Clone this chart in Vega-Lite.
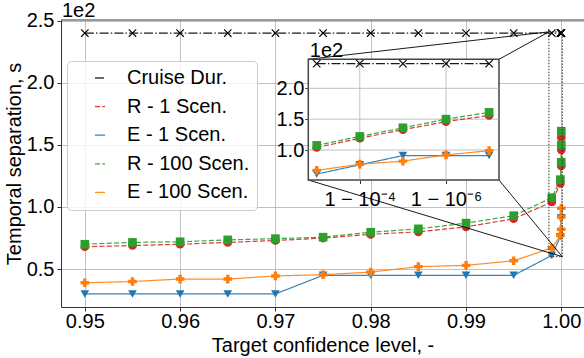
{
  "$schema": "https://vega.github.io/schema/vega-lite/v6.json",
  "width": 523,
  "height": 287,
  "autosize": {"type": "none"},
  "padding": {"left": 61, "top": 20, "right": 0, "bottom": 51},
  "background": "white",
  "datasets": {
    "d": [
      {"series": "Cruise Dur.", "conf": 0.95, "tail": 0.05, "value": 240},
      {"series": "Cruise Dur.", "conf": 0.955, "tail": 0.045, "value": 240},
      {"series": "Cruise Dur.", "conf": 0.96, "tail": 0.04, "value": 240},
      {"series": "Cruise Dur.", "conf": 0.965, "tail": 0.035, "value": 240},
      {"series": "Cruise Dur.", "conf": 0.97, "tail": 0.03, "value": 240},
      {"series": "Cruise Dur.", "conf": 0.975, "tail": 0.025, "value": 240},
      {"series": "Cruise Dur.", "conf": 0.98, "tail": 0.02, "value": 240},
      {"series": "Cruise Dur.", "conf": 0.985, "tail": 0.015, "value": 240},
      {"series": "Cruise Dur.", "conf": 0.99, "tail": 0.01, "value": 240},
      {"series": "Cruise Dur.", "conf": 0.995, "tail": 0.005, "value": 240},
      {"series": "Cruise Dur.", "conf": 0.999, "tail": 0.001, "value": 240},
      {"series": "Cruise Dur.", "conf": 0.9999, "tail": 0.0001, "value": 240},
      {"series": "Cruise Dur.", "conf": 0.99999, "tail": 0.00001, "value": 240},
      {"series": "Cruise Dur.", "conf": 0.999999, "tail": 0.000001, "value": 240},
      {"series": "Cruise Dur.", "conf": 0.9999999, "tail": 0.0000001, "value": 240},
      {"series": "R - 1 Scen.", "conf": 0.95, "tail": 0.05, "value": 68},
      {"series": "R - 1 Scen.", "conf": 0.955, "tail": 0.045, "value": 69},
      {"series": "R - 1 Scen.", "conf": 0.96, "tail": 0.04, "value": 70},
      {"series": "R - 1 Scen.", "conf": 0.965, "tail": 0.035, "value": 71.5},
      {"series": "R - 1 Scen.", "conf": 0.97, "tail": 0.03, "value": 73},
      {"series": "R - 1 Scen.", "conf": 0.975, "tail": 0.025, "value": 75},
      {"series": "R - 1 Scen.", "conf": 0.98, "tail": 0.02, "value": 78},
      {"series": "R - 1 Scen.", "conf": 0.985, "tail": 0.015, "value": 80},
      {"series": "R - 1 Scen.", "conf": 0.99, "tail": 0.01, "value": 84},
      {"series": "R - 1 Scen.", "conf": 0.995, "tail": 0.005, "value": 90.5},
      {"series": "R - 1 Scen.", "conf": 0.999, "tail": 0.001, "value": 104},
      {"series": "R - 1 Scen.", "conf": 0.9999, "tail": 0.0001, "value": 119},
      {"series": "R - 1 Scen.", "conf": 0.99999, "tail": 0.00001, "value": 133},
      {"series": "R - 1 Scen.", "conf": 0.999999, "tail": 0.000001, "value": 146},
      {"series": "R - 1 Scen.", "conf": 0.9999999, "tail": 0.0000001, "value": 156},
      {"series": "E - 1 Scen.", "conf": 0.95, "tail": 0.05, "value": 30},
      {"series": "E - 1 Scen.", "conf": 0.955, "tail": 0.045, "value": 30},
      {"series": "E - 1 Scen.", "conf": 0.96, "tail": 0.04, "value": 30},
      {"series": "E - 1 Scen.", "conf": 0.965, "tail": 0.035, "value": 30},
      {"series": "E - 1 Scen.", "conf": 0.97, "tail": 0.03, "value": 30},
      {"series": "E - 1 Scen.", "conf": 0.975, "tail": 0.025, "value": 45},
      {"series": "E - 1 Scen.", "conf": 0.98, "tail": 0.02, "value": 45},
      {"series": "E - 1 Scen.", "conf": 0.985, "tail": 0.015, "value": 45},
      {"series": "E - 1 Scen.", "conf": 0.99, "tail": 0.01, "value": 45},
      {"series": "E - 1 Scen.", "conf": 0.995, "tail": 0.005, "value": 45},
      {"series": "E - 1 Scen.", "conf": 0.999, "tail": 0.001, "value": 61},
      {"series": "E - 1 Scen.", "conf": 0.9999, "tail": 0.0001, "value": 76},
      {"series": "E - 1 Scen.", "conf": 0.99999, "tail": 0.00001, "value": 91},
      {"series": "E - 1 Scen.", "conf": 0.999999, "tail": 0.000001, "value": 91},
      {"series": "E - 1 Scen.", "conf": 0.9999999, "tail": 0.0000001, "value": 91},
      {"series": "R - 100 Scen.", "conf": 0.95, "tail": 0.05, "value": 70},
      {"series": "R - 100 Scen.", "conf": 0.955, "tail": 0.045, "value": 71.5},
      {"series": "R - 100 Scen.", "conf": 0.96, "tail": 0.04, "value": 72},
      {"series": "R - 100 Scen.", "conf": 0.965, "tail": 0.035, "value": 73.5},
      {"series": "R - 100 Scen.", "conf": 0.97, "tail": 0.03, "value": 74.5},
      {"series": "R - 100 Scen.", "conf": 0.975, "tail": 0.025, "value": 75.7},
      {"series": "R - 100 Scen.", "conf": 0.98, "tail": 0.02, "value": 79.7},
      {"series": "R - 100 Scen.", "conf": 0.985, "tail": 0.015, "value": 82.4},
      {"series": "R - 100 Scen.", "conf": 0.99, "tail": 0.01, "value": 87},
      {"series": "R - 100 Scen.", "conf": 0.995, "tail": 0.005, "value": 93},
      {"series": "R - 100 Scen.", "conf": 0.999, "tail": 0.001, "value": 107.5},
      {"series": "R - 100 Scen.", "conf": 0.9999, "tail": 0.0001, "value": 122},
      {"series": "R - 100 Scen.", "conf": 0.99999, "tail": 0.00001, "value": 136},
      {"series": "R - 100 Scen.", "conf": 0.999999, "tail": 0.000001, "value": 150},
      {"series": "R - 100 Scen.", "conf": 0.9999999, "tail": 0.0000001, "value": 161},
      {"series": "E - 100 Scen.", "conf": 0.95, "tail": 0.05, "value": 39},
      {"series": "E - 100 Scen.", "conf": 0.955, "tail": 0.045, "value": 40},
      {"series": "E - 100 Scen.", "conf": 0.96, "tail": 0.04, "value": 42},
      {"series": "E - 100 Scen.", "conf": 0.965, "tail": 0.035, "value": 42},
      {"series": "E - 100 Scen.", "conf": 0.97, "tail": 0.03, "value": 44.5},
      {"series": "E - 100 Scen.", "conf": 0.975, "tail": 0.025, "value": 45.5},
      {"series": "E - 100 Scen.", "conf": 0.98, "tail": 0.02, "value": 47.6},
      {"series": "E - 100 Scen.", "conf": 0.985, "tail": 0.015, "value": 52},
      {"series": "E - 100 Scen.", "conf": 0.99, "tail": 0.01, "value": 53},
      {"series": "E - 100 Scen.", "conf": 0.995, "tail": 0.005, "value": 56.7},
      {"series": "E - 100 Scen.", "conf": 0.999, "tail": 0.001, "value": 67},
      {"series": "E - 100 Scen.", "conf": 0.9999, "tail": 0.0001, "value": 77},
      {"series": "E - 100 Scen.", "conf": 0.99999, "tail": 0.00001, "value": 82},
      {"series": "E - 100 Scen.", "conf": 0.999999, "tail": 0.000001, "value": 92},
      {"series": "E - 100 Scen.", "conf": 0.9999999, "tail": 0.0000001, "value": 99}
    ]
  },
  "layer": [
    {
      "data": {"name": "d"},
      "layer": [
        {
          "mark": {"type": "line", "strokeWidth": 1.2, "opacity": 0.9},
          "encoding": {
            "x": {"field": "conf", "type": "quantitative", "scale": {"domain": [0.9475, 1.00238], "nice": false, "zero": false},
                  "axis": {"orient": "bottom", "values": [0.95, 0.96, 0.97, 0.98, 0.99, 1.0], "format": ".2f", "title": "Target confidence level, -", "grid": true}},
            "y": {"field": "value", "type": "quantitative", "scale": {"domain": [19.5, 250.5], "nice": false, "zero": false},
                  "axis": {"orient": "left", "values": [50, 100, 150, 200, 250], "labelExpr": "format(datum.value / 100, '.1f')", "title": "Temporal separation, s", "grid": true}},
            "color": {"field": "series", "type": "nominal",
                      "scale": {"domain": ["Cruise Dur.", "R - 1 Scen.", "E - 1 Scen.", "R - 100 Scen.", "E - 100 Scen."], "range": ["#000000", "#d62728", "#1f77b4", "#2ca02c", "#ff7f0e"]},
                      "legend": {
                        "title": null, "orient": "none", "legendX": 6, "legendY": 41,
                        "padding": 7, "rowPadding": 8.6, "symbolSize": 100, "symbolOffset": 16, "labelOffset": 17,
                        "labelFontSize": 20, "labelFont": "Liberation Sans", "labelColor": "black", "labelLimit": 300,
                        "fillColor": "rgba(255,255,255,0.8)", "strokeColor": "#cccccc", "cornerRadius": 4, "symbolStrokeWidth": 1.3,
                        "encode": {"symbols": {
                          "shape": {"value": {"expr": "datum.label === 'Cruise Dur.' ? 'M-4.3,0H4.3M-0.75,-0.75L0.75,0.75M-0.75,0.75L0.75,-0.75' : datum.label === 'R - 1 Scen.' ? 'M-4.3,0H4.3M0.9,0A0.9,0.9,0,1,1,-0.9,0A0.9,0.9,0,1,1,0.9,0Z' : datum.label === 'E - 1 Scen.' ? 'M-4.3,0H4.3M-1,-0.8H1L0,0.95Z' : datum.label === 'R - 100 Scen.' ? 'M-4.3,0H4.3M-0.85,-0.85H0.85V0.85H-0.85Z' : 'M-4.3,0H4.3M-0.33,-1H0.33V-0.33H1V0.33H0.33V1H-0.33V0.33H-1V-0.33H-0.33Z'"}},
                          "stroke": {"value": {"expr": "datum.label === 'Cruise Dur.' ? '#000000' : datum.label === 'R - 1 Scen.' ? '#d62728' : datum.label === 'E - 1 Scen.' ? '#1f77b4' : datum.label === 'R - 100 Scen.' ? '#2ca02c' : '#ff7f0e'"}},
                          "fill": {"value": {"expr": "datum.label === 'Cruise Dur.' ? 'transparent' : datum.label === 'R - 1 Scen.' ? '#d62728' : datum.label === 'E - 1 Scen.' ? '#1f77b4' : datum.label === 'R - 100 Scen.' ? '#2ca02c' : '#ff7f0e'"}},
                          "strokeDash": {"value": {"expr": "datum.label === 'Cruise Dur.' ? [8, 2.5, 1.5, 2.5] : (datum.label === 'R - 1 Scen.' || datum.label === 'R - 100 Scen.') ? [5, 2.2] : [1, 0]"}},
                          "strokeWidth": {"value": 1.3},
                          "opacity": {"value": 1},
                          "fillOpacity": {"value": 1},
                          "strokeOpacity": {"value": 1}
                        }}
                      }},
            "strokeDash": {"field": "series", "type": "nominal",
                           "scale": {"domain": ["Cruise Dur.", "R - 1 Scen.", "E - 1 Scen.", "R - 100 Scen.", "E - 100 Scen."], "range": [[9, 2.2, 1.4, 2.2], [5.1, 2.2], [1, 0], [5.1, 2.2], [1, 0]]},
                           "legend": null}
          }
        },
        {
          "data": {"values": [{}]},
          "mark": {"type": "rule", "color": "#333333", "strokeWidth": 1},
          "encoding": {"y": {"datum": 250.5, "type": "quantitative"}}
        },
        {
          "transform": [{"filter": "datum.series === 'Cruise Dur.'"}],
          "mark": {"type": "point", "shape": "M-1,-1L1,1M-1,1L1,-1", "filled": false, "stroke": "#000000", "strokeWidth": 1.1, "size": 55, "opacity": 1},
          "encoding": {
            "x": {"field": "conf", "type": "quantitative"},
            "y": {"field": "value", "type": "quantitative"}
          }
        },
        {
          "transform": [{"filter": "datum.series !== 'Cruise Dur.'"}],
          "mark": {"type": "point", "filled": true, "size": 75, "opacity": 1},
          "encoding": {
            "x": {"field": "conf", "type": "quantitative"},
            "y": {"field": "value", "type": "quantitative"},
            "color": {"field": "series", "type": "nominal", "legend": null},
            "shape": {"field": "series", "type": "nominal",
                      "scale": {"domain": ["R - 1 Scen.", "E - 1 Scen.", "R - 100 Scen.", "E - 100 Scen."], "range": ["circle", "triangle-down", "square", "cross"]},
                      "legend": null}
          }
        },
        {
          "data": {"values": [{}]},
          "mark": {"type": "rect", "fill": "transparent", "stroke": "#333333", "strokeWidth": 1, "strokeDash": [1.5, 1.5]},
          "encoding": {
            "x": {"datum": 0.9987, "type": "quantitative"}, "x2": {"datum": 1.0001},
            "y": {"datum": 60, "type": "quantitative"}, "y2": {"datum": 241}
          }
        },
        {
          "data": {"values": [{}]},
          "mark": {"type": "rule", "color": "#000000", "strokeWidth": 0.9},
          "encoding": {"x": {"datum": 0.97345, "type": "quantitative"}, "y": {"datum": 218.87, "type": "quantitative"}, "x2": {"datum": 0.9987}, "y2": {"datum": 241}}
        },
        {
          "data": {"values": [{}]},
          "mark": {"type": "rule", "color": "#000000", "strokeWidth": 0.9},
          "encoding": {"x": {"datum": 0.99346, "type": "quantitative"}, "y": {"datum": 218.87, "type": "quantitative"}, "x2": {"datum": 0.9987}, "y2": {"datum": 241}}
        },
        {
          "data": {"values": [{}]},
          "mark": {"type": "rule", "color": "#000000", "strokeWidth": 0.9},
          "encoding": {"x": {"datum": 0.97345, "type": "quantitative"}, "y": {"datum": 121.72, "type": "quantitative"}, "x2": {"datum": 1.0001}, "y2": {"datum": 60}}
        },
        {
          "data": {"values": [{}]},
          "mark": {"type": "rule", "color": "#000000", "strokeWidth": 0.9},
          "encoding": {"x": {"datum": 0.99346, "type": "quantitative"}, "y": {"datum": 121.72, "type": "quantitative"}, "x2": {"datum": 1.0001}, "y2": {"datum": 60}}
        },
        {
          "data": {"values": [{}]},
          "mark": {"type": "text", "text": "1e2", "align": "left", "baseline": "alphabetic", "fontSize": 20, "font": "Liberation Sans", "color": "black", "dx": 1, "dy": -3.3},
          "encoding": {"x": {"datum": 0.9475, "type": "quantitative"}, "y": {"datum": 250.5, "type": "quantitative"}}
        }
      ]
    },
    {
      "layer": [
        {
          "data": {"values": [{}]},
          "mark": {"type": "rect", "fill": "white", "stroke": "#444444", "strokeWidth": 1.5},
          "encoding": {
            "x": {"datum": 0.001567, "type": "quantitative",
                  "scale": {"type": "log", "domain": [0.001567, 5.89e-8], "range": [247.3, 438], "nice": false, "zero": false},
                  "axis": {"orient": "bottom", "offset": -127, "values": [0.0001, 0.000001], "labelExpr": "datum.value < 0.00001 ? '1 − 10⁻⁶' : '1 − 10⁻⁴'", "title": null, "grid": false, "domain": false, "tickSize": 3.5, "labelPadding": 5.7}},
            "x2": {"datum": 5.89e-8},
            "y": {"datum": 51.4, "type": "quantitative",
                  "scale": {"domain": [51.4, 247], "range": [160, 39.3], "nice": false, "zero": false},
                  "axis": {"orient": "left", "offset": -247.3, "values": [100, 150, 200], "labelExpr": "format(datum.value / 100, '.1f')", "title": null, "grid": false, "domain": false, "tickSize": 3.5, "labelPadding": 1}},
            "y2": {"datum": 247}
          }
        },
        {
          "data": {"values": [{}]},
          "mark": {"type": "rule", "color": "#b0b0b0", "strokeWidth": 0.8},
          "encoding": {"x": {"datum": 0.0001, "type": "quantitative"}, "y": {"datum": 51.4, "type": "quantitative"}, "y2": {"datum": 247}}
        },
        {
          "data": {"values": [{}]},
          "mark": {"type": "rule", "color": "#b0b0b0", "strokeWidth": 0.8},
          "encoding": {"x": {"datum": 0.000001, "type": "quantitative"}, "y": {"datum": 51.4, "type": "quantitative"}, "y2": {"datum": 247}}
        },
        {
          "data": {"values": [{}]},
          "mark": {"type": "rule", "color": "#b0b0b0", "strokeWidth": 0.8},
          "encoding": {"y": {"datum": 100, "type": "quantitative"}, "x": {"datum": 0.001567, "type": "quantitative"}, "x2": {"datum": 5.89e-8}}
        },
        {
          "data": {"values": [{}]},
          "mark": {"type": "rule", "color": "#b0b0b0", "strokeWidth": 0.8},
          "encoding": {"y": {"datum": 150, "type": "quantitative"}, "x": {"datum": 0.001567, "type": "quantitative"}, "x2": {"datum": 5.89e-8}}
        },
        {
          "data": {"values": [{}]},
          "mark": {"type": "rule", "color": "#b0b0b0", "strokeWidth": 0.8},
          "encoding": {"y": {"datum": 200, "type": "quantitative"}, "x": {"datum": 0.001567, "type": "quantitative"}, "x2": {"datum": 5.89e-8}}
        },
        {
          "data": {"name": "d"},
          "transform": [{"filter": "datum.tail <= 0.0011"}],
          "mark": {"type": "line", "strokeWidth": 1.2, "opacity": 0.9},
          "encoding": {
            "x": {"field": "tail", "type": "quantitative"},
            "y": {"field": "value", "type": "quantitative"},
            "color": {"field": "series", "type": "nominal",
                      "scale": {"domain": ["Cruise Dur.", "R - 1 Scen.", "E - 1 Scen.", "R - 100 Scen.", "E - 100 Scen."], "range": ["#000000", "#d62728", "#1f77b4", "#2ca02c", "#ff7f0e"]},
                      "legend": null},
            "strokeDash": {"field": "series", "type": "nominal",
                           "scale": {"domain": ["Cruise Dur.", "R - 1 Scen.", "E - 1 Scen.", "R - 100 Scen.", "E - 100 Scen."], "range": [[9, 2.2, 1.4, 2.2], [5.1, 2.2], [1, 0], [5.1, 2.2], [1, 0]]},
                           "legend": null}
          }
        },
        {
          "data": {"name": "d"},
          "transform": [{"filter": "datum.tail <= 0.0011 && datum.series === 'Cruise Dur.'"}],
          "mark": {"type": "point", "shape": "M-1,-1L1,1M-1,1L1,-1", "filled": false, "stroke": "#000000", "strokeWidth": 1.1, "size": 55, "opacity": 1},
          "encoding": {
            "x": {"field": "tail", "type": "quantitative"},
            "y": {"field": "value", "type": "quantitative"}
          }
        },
        {
          "data": {"name": "d"},
          "transform": [{"filter": "datum.tail <= 0.0011 && datum.series !== 'Cruise Dur.'"}],
          "mark": {"type": "point", "filled": true, "size": 75, "opacity": 1},
          "encoding": {
            "x": {"field": "tail", "type": "quantitative"},
            "y": {"field": "value", "type": "quantitative"},
            "color": {"field": "series", "type": "nominal", "legend": null},
            "shape": {"field": "series", "type": "nominal",
                      "scale": {"domain": ["R - 1 Scen.", "E - 1 Scen.", "R - 100 Scen.", "E - 100 Scen."], "range": ["circle", "triangle-down", "square", "cross"]},
                      "legend": null}
          }
        },
        {
          "data": {"values": [{}]},
          "mark": {"type": "text", "text": "1e2", "align": "left", "baseline": "alphabetic", "fontSize": 20, "font": "Liberation Sans", "color": "black", "dx": 1.5, "dy": -2},
          "encoding": {"x": {"datum": 0.001567, "type": "quantitative"}, "y": {"datum": 247, "type": "quantitative"}}
        }
      ]
    }
  ],
  "resolve": {
    "scale": {"x": "independent", "y": "independent", "color": "independent", "shape": "independent", "strokeDash": "independent"},
    "axis": {"x": "independent", "y": "independent"},
    "legend": {"color": "independent"}
  },
  "config": {
    "font": "Liberation Sans",
    "view": {"stroke": null},
    "axis": {
      "labelFontSize": 20, "titleFontSize": 20, "titleFontWeight": "normal",
      "labelColor": "#000000", "titleColor": "#000000", "labelFont": "Liberation Sans", "titleFont": "Liberation Sans",
      "tickColor": "#333333", "domainColor": "#333333", "domainWidth": 1, "tickWidth": 1, "tickSize": 4,
      "gridColor": "#b0b0b0", "gridWidth": 0.8, "labelFlush": false, "labelOverlap": false
    },
    "axisX": {"labelPadding": 0, "titlePadding": 4},
    "axisY": {"labelPadding": 3, "titlePadding": 2}
  }
}
